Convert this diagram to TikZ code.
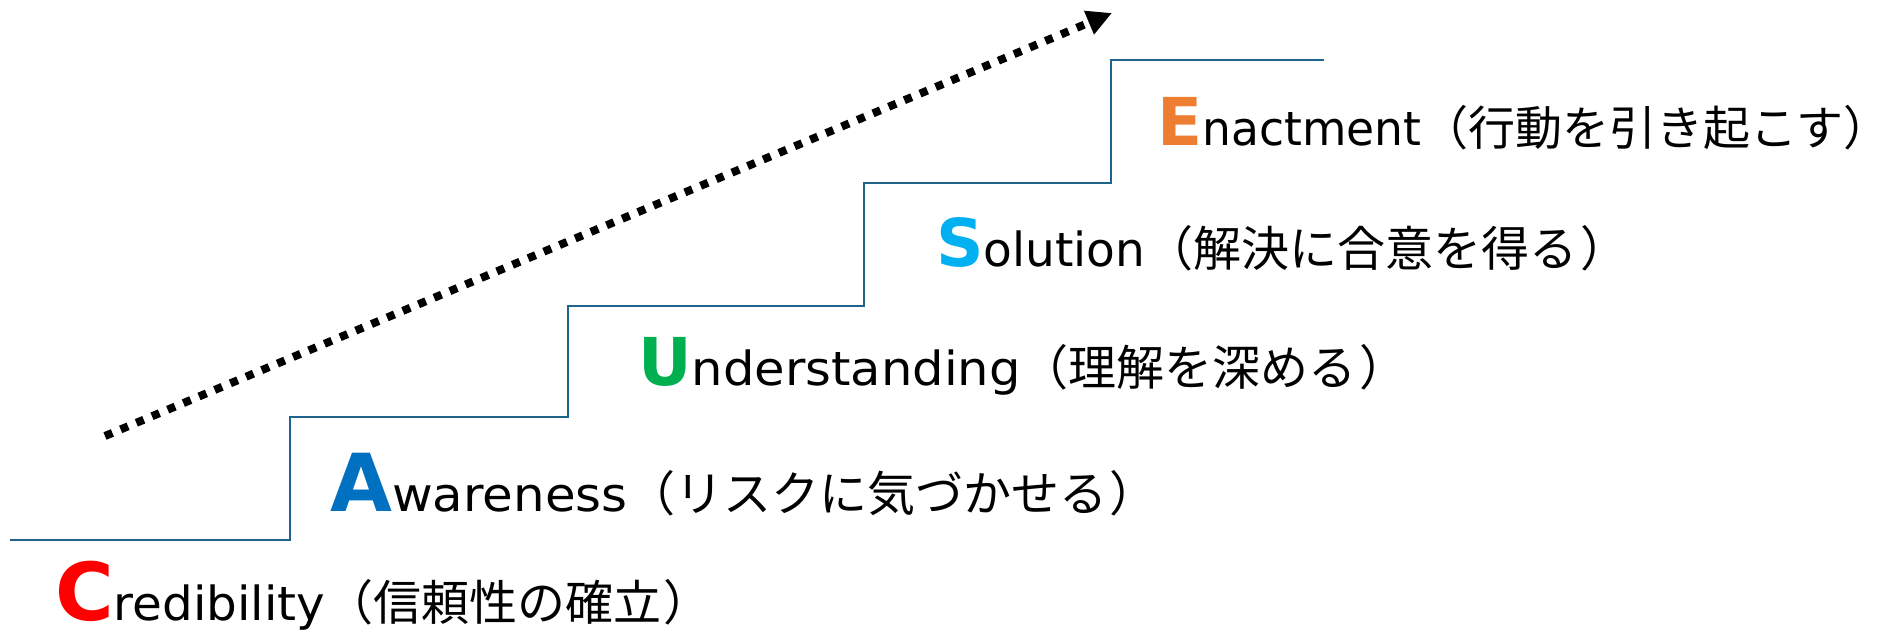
\documentclass[tikz,border=0pt]{standalone}
\usepackage{graphicx}
\usepackage{fontspec}
\setmainfont{DejaVu Sans}
\newfontfamily\cjk{Noto Sans CJK JP}
\usetikzlibrary{arrows.meta}
\definecolor{stairc}{RGB}{31,100,140}
\definecolor{cred}{RGB}{255,0,0}
\definecolor{cblue}{RGB}{0,112,192}
\definecolor{cgreen}{RGB}{0,176,80}
\definecolor{clblue}{RGB}{0,176,240}
\definecolor{corange}{RGB}{237,125,49}
\newcommand{\bigA}[2]{{\fontsize{80}{80}\selectfont\bfseries\color{#1}#2}}
\newcommand{\bigB}[2]{{\fontsize{66}{66}\selectfont\bfseries\color{#1}#2}}
\newcommand{\jp}[2][48]{{\fontsize{#1}{50}\selectfont\cjk #2}}
\newcommand{\lat}[2]{\scalebox{#1}[1]{#2}}
\begin{document}
\begin{tikzpicture}[x=1pt,y=-1pt,
  stair/.style={draw=stairc,line width=2.5pt},
  lbl/.style={anchor=base west,inner sep=0pt,font=\fontsize{47}{50}\selectfont},
  trend/.style={line width=8pt,dash pattern=on 8pt off 9pt,-{Triangle[length=25pt,width=24pt]}}]
\useasboundingbox (0,0) rectangle (1892,634);
\coordinate (s0) at (10,540);
\coordinate (s1) at (290,540);
\coordinate (s2) at (290,417);
\coordinate (s3) at (568,417);
\coordinate (s4) at (568,306);
\coordinate (s5) at (864,306);
\coordinate (s6) at (864,183);
\coordinate (s7) at (1111,183);
\coordinate (s8) at (1111,60);
\coordinate (s9) at (1324,60);
\draw[stair] (s0) -- (s1) -- (s2) -- (s3) -- (s4) -- (s5) -- (s6) -- (s7) -- (s8) -- (s9);
\coordinate (a0) at (105,436);
\coordinate (a1) at (1112,13);
\draw[trend] (a0) -- (a1);
\node[lbl] (c) at (55,620) {\bigA{cred}{C}\lat{1.03}{redibility}\jp{（信頼性の確立\kern2pt）}};
\node[lbl] (a) at (330,511) {\bigA{cblue}{A}\lat{1.06}{wareness}\jp{（リスクに気づかせる\kern2pt）}};
\node[lbl] (u) at (638,385) {\bigB{cgreen}{U}\lat{1.055}{nderstanding}\jp{（理解を深める\kern3pt）}};
\node[lbl] (s) at (936,266) {\bigB{clblue}{S}olution\jp{（解決に合意を得る\kern3pt）}};
\node[lbl] (e) at (1157,145) {\bigB{corange}{E}\lat{0.97}{nactment}\jp[47]{（行動を引き起こす）}};
\end{tikzpicture}
\end{document}
